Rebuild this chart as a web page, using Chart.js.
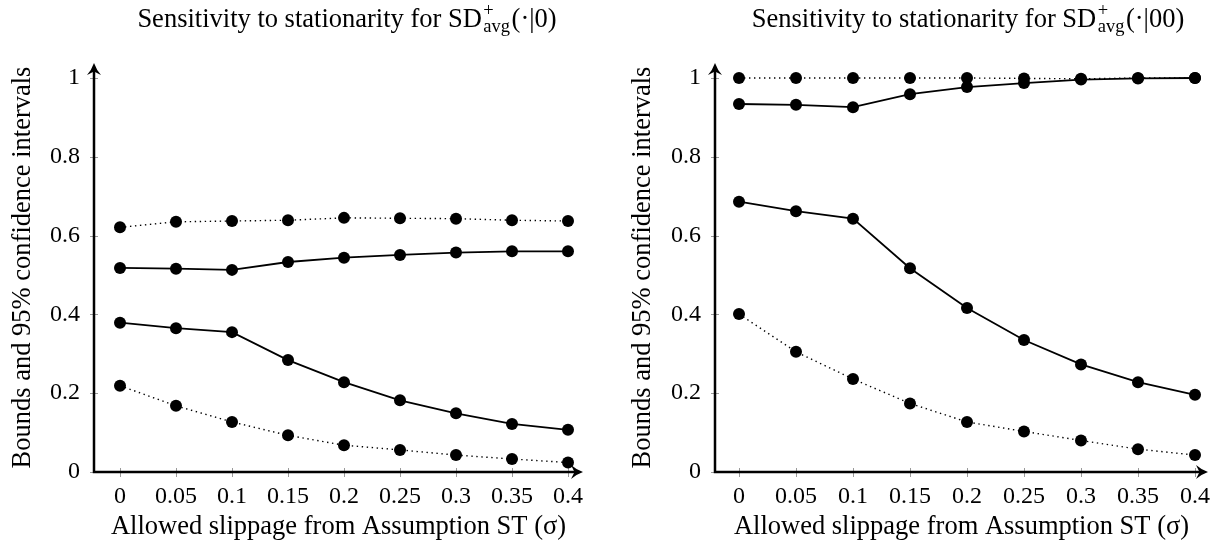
<!DOCTYPE html>
<html><head><meta charset="utf-8">
<script src="https://cdn.jsdelivr.net/npm/chart.js@4/dist/chart.umd.min.js"></script>
<style>
body{margin:0;background:#fff;width:1222px;height:548px;overflow:hidden;position:relative}
.w{position:absolute;top:0;width:611px;height:548px}
</style></head><body>
<div class="w" style="left:0"><canvas id="c1" width="611" height="548"></canvas></div>
<div class="w" style="left:611px"><canvas id="c2" width="611" height="548"></canvas></div>
<script>
// ---- data ----
const xValues = [0, 0.05, 0.1, 0.15, 0.2, 0.25, 0.3, 0.35, 0.4];
const xTickLabels = ['0', '0.05', '0.1', '0.15', '0.2', '0.25', '0.3', '0.35', '0.4'];
const yTickValues = [0, 0.2, 0.4, 0.6, 0.8, 1];
const yTickLabels = ['0', '0.2', '0.4', '0.6', '0.8', '1'];

const leftUpperCI    = [0.621, 0.635, 0.637, 0.639, 0.645, 0.644, 0.643, 0.639, 0.637];
const leftUpperBound = [0.518, 0.516, 0.513, 0.533, 0.544, 0.551, 0.557, 0.560, 0.560];
const leftLowerBound = [0.379, 0.365, 0.355, 0.284, 0.228, 0.182, 0.149, 0.122, 0.107];
const leftLowerCI    = [0.219, 0.168, 0.127, 0.093, 0.068, 0.056, 0.043, 0.033, 0.024];

const rightUpperCI    = [1.0, 1.0, 1.0, 1.0, 1.0, 0.999, 0.998, 1.0, 1.0];
const rightUpperBound = [0.934, 0.932, 0.926, 0.959, 0.977, 0.987, 0.996, 0.999, 1.0];
const rightLowerBound = [0.686, 0.662, 0.643, 0.517, 0.416, 0.335, 0.273, 0.228, 0.196];
const rightLowerCI    = [0.401, 0.305, 0.236, 0.174, 0.127, 0.103, 0.080, 0.058, 0.043];

const titleMain = 'Sensitivity to stationarity for SD';
const titleSup = '+';
const titleSub = 'avg';
const leftTitleTail = '(\u00B7|0)';
const rightTitleTail = '(\u00B7|00)';
const xTitle = 'Allowed slippage from Assumption ST (\u03C3)';
const yTitle = 'Bounds and 95% confidence intervals';

const FONT = '"Liberation Serif", "Times New Roman", serif';
const TEXT_SIZE = 26.5;
const TICK_SIZE = 24;

function pts(ys){ return xValues.map((x,i)=>({x:x, y:ys[i]})); }

function ds(ys, dotted){
  return {
    data: pts(ys),
    borderColor: '#000',
    backgroundColor: '#000',
    borderWidth: dotted ? 1.4 : 1.8,
    borderDash: dotted ? [1.4, 3.6] : [],
    pointRadius: 6,
    pointHoverRadius: 6,
    pointBorderWidth: 0,
    pointBackgroundColor: '#000',
    tension: 0,
    clip: false
  };
}

const axesPlugin = {
  id: 'axesArrows',
  beforeDatasetsDraw(chart){
    const {ctx, chartArea:a, scales} = chart;
    ctx.save();
    ctx.strokeStyle = '#9a9a9a';
    ctx.lineWidth = 1;
    ctx.beginPath();
    yTickValues.forEach(v => {
      const y = Math.round(scales.y.getPixelForValue(v)) + 0.5;
      ctx.moveTo(a.left - 4, y); ctx.lineTo(a.left + 4, y);
    });
    xValues.forEach(v => {
      const x = Math.round(scales.x.getPixelForValue(v)) + 0.5;
      ctx.moveTo(x, a.bottom - 4); ctx.lineTo(x, a.bottom + 5);
    });
    ctx.stroke();
    ctx.restore();
  },
  afterDatasetsDraw(chart){
    const {ctx, chartArea:a} = chart;
    ctx.save();
    ctx.strokeStyle = '#000';
    ctx.fillStyle = '#000';
    ctx.lineWidth = 2.5;
    ctx.beginPath();
    ctx.moveTo(a.left, a.bottom + 1.25); ctx.lineTo(a.left, a.top + 6);
    ctx.moveTo(a.left - 1.25, a.bottom); ctx.lineTo(a.right - 6, a.bottom);
    ctx.stroke();
    // arrow heads (stealth-like)
    ctx.beginPath();
    ctx.moveTo(a.left, a.top);
    ctx.quadraticCurveTo(a.left + 2.5, a.top + 7, a.left + 7, a.top + 12);
    ctx.lineTo(a.left, a.top + 8.5);
    ctx.lineTo(a.left - 7, a.top + 12);
    ctx.quadraticCurveTo(a.left - 2.5, a.top + 7, a.left, a.top);
    ctx.fill();
    ctx.beginPath();
    ctx.moveTo(a.right, a.bottom);
    ctx.quadraticCurveTo(a.right - 7, a.bottom - 2.5, a.right - 12, a.bottom - 7);
    ctx.lineTo(a.right - 8.5, a.bottom);
    ctx.lineTo(a.right - 12, a.bottom + 7);
    ctx.quadraticCurveTo(a.right - 7, a.bottom + 2.5, a.right, a.bottom);
    ctx.fill();
    ctx.restore();
  }
};

const titlePlugin = {
  id: 'mathTitle',
  afterDraw(chart){
    const o = chart.options.plugins.mathTitle;
    const ctx = chart.ctx;
    ctx.save();
    ctx.fillStyle = '#000';
    ctx.textBaseline = 'alphabetic';
    ctx.textAlign = 'left';
    const big = TEXT_SIZE + 'px ' + FONT, small = '18.5px ' + FONT;
    ctx.font = big;
    const w1 = ctx.measureText(titleMain).width;
    const w3 = ctx.measureText(o.tail).width;
    ctx.font = small;
    const w2 = Math.max(ctx.measureText(titleSup).width, ctx.measureText(titleSub).width) + 3;
    const total = w1 + w2 + w3;
    let x = o.cx - total / 2;
    const y = o.baseline;
    ctx.font = big; ctx.fillText(titleMain, x, y); x += w1;
    ctx.font = small;
    ctx.fillText(titleSup, x + 1.5, y - 11);
    ctx.fillText(titleSub, x + 1.5, y + 5);
    x += w2;
    ctx.font = big; ctx.fillText(o.tail, x, y);
    ctx.restore();
  }
};

function makeChart(id, series, cfg){
  return new Chart(document.getElementById(id), {
    type: 'line',
    data: { datasets: [ds(series[0], true), ds(series[1], false), ds(series[2], false), ds(series[3], true)] },
    options: {
      responsive: false,
      animation: false,
      events: [],
      layout: { padding: { left: 0, right: cfg.padRight, top: cfg.padTop, bottom: 0 } },
      plugins: { legend: { display: false }, tooltip: { enabled: false }, title: { display: false },
                 mathTitle: { cx: cfg.titleX, baseline: 27, tail: cfg.tail } },
      scales: {
        x: {
          type: 'linear', min: cfg.xMin, max: cfg.xMax,
          afterBuildTicks: s => { s.ticks = xValues.map(v => ({value: v})); },
          afterFit: s => { s.height = 76; },
          grid: { drawOnChartArea: false, drawTicks: true, tickLength: 5, tickColor: 'rgba(0,0,0,0)' },
          border: { display: false },
          ticks: { autoSkip: false, maxRotation: 0, padding: 5, color: '#000',
                   font: { family: FONT, size: TICK_SIZE },
                   callback: (v, i) => xTickLabels[i] },
          title: { display: true, text: xTitle, color: '#000', font: { family: FONT, size: TEXT_SIZE },
                   padding: { top: 0, bottom: 5 } }
        },
        y: {
          type: 'linear', min: 0, max: cfg.yMax,
          afterBuildTicks: s => { s.ticks = yTickValues.map(v => ({value: v})); },
          afterFit: s => { s.width = cfg.yWidth; },
          grid: { drawOnChartArea: false, drawTicks: true, tickLength: 4, tickColor: 'rgba(0,0,0,0)' },
          border: { display: false },
          ticks: { padding: 10, color: '#000', font: { family: FONT, size: TICK_SIZE },
                   callback: (v, i) => yTickLabels[i] },
          title: { display: true, text: yTitle, color: '#000', font: { family: FONT, size: TEXT_SIZE },
                   padding: { top: cfg.yTitlePad, bottom: 0 } }
        }
      }
    },
    plugins: [axesPlugin, titlePlugin]
  });
}

makeChart('c1', [leftUpperCI, leftUpperBound, leftLowerBound, leftLowerCI], {
  padRight: 28, padTop: 63, yWidth: 94, xMin: -26/1120, xMax: 0.4 + 15/1120, yMax: 1 + 15/394,
  yTitlePad: 7, tail: leftTitleTail, titleX: 347
});
makeChart('c2', [rightUpperCI, rightUpperBound, rightLowerBound, rightLowerCI], {
  padRight: 14, padTop: 63, yWidth: 104, xMin: -24/1140, xMax: 0.4 + 13/1140, yMax: 1 + 15/394,
  yTitlePad: 16, tail: rightTitleTail, titleX: 357
});
</script>
</body></html>
